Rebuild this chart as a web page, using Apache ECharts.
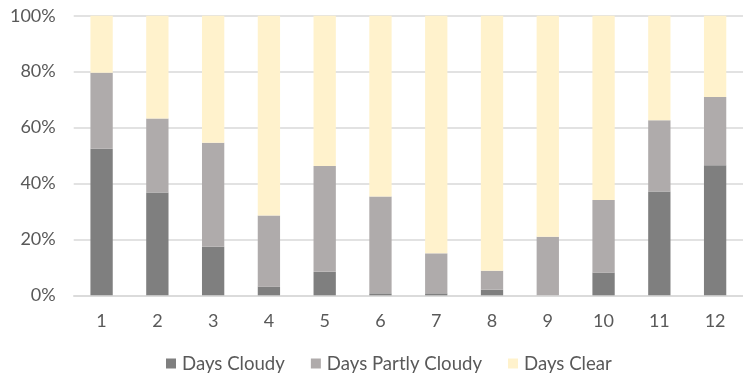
<!DOCTYPE html>
<html>
<head>
<meta charset="utf-8">
<script src="https://cdn.jsdelivr.net/npm/echarts@6/dist/echarts.min.js"></script>
<style>
  html, body { margin: 0; padding: 0; background: #fff; }
  #chart { width: 743px; height: 375px; }
</style>
</head>
<body>
<div id="chart"></div>
<script>
// Monthly sky conditions, share of days (%)
const months = ['1', '2', '3', '4', '5', '6', '7', '8', '9', '10', '11', '12'];
const daysCloudy = [52.4, 36.8, 17.4, 3.1, 8.4, 0.7, 0.7, 2.0, 0.0, 8.1, 37.1, 46.5];
const daysPartlyCloudy = [27.2, 26.4, 37.2, 25.4, 37.8, 34.6, 14.3, 6.8, 20.9, 26.0, 25.5, 24.4];
const daysClear = [20.4, 36.8, 45.4, 71.5, 53.8, 64.7, 85.0, 91.2, 79.1, 65.9, 37.4, 29.1];
const yTicks = [0, 20, 40, 60, 80, 100];

const chart = echarts.init(document.getElementById('chart'));
const font = 'Lato, "Open Sans", sans-serif';
const fontSize = 18;

function barSeries(name, data, color) {
  return {
    name: name,
    type: 'bar',
    stack: 'total',
    barWidth: '40%',
    data: data,
    itemStyle: { color: color },
    emphasis: { disabled: true }
  };
}

chart.setOption({
  animation: false,
  grid: { left: 73.7, top: 15.7, width: 679, height: 279.6, containLabel: false },
  legend: {
    top: 354,
    left: 166,
    padding: 0,
    itemWidth: 10,
    itemHeight: 10,
    itemGap: 26,
    icon: 'rect',
    textStyle: { fontFamily: font, fontSize: 18.6, color: '#595959', padding: [0, 0, 0, 1] },
    data: ['Days Cloudy', 'Days Partly Cloudy', 'Days Clear']
  },
  xAxis: {
    type: 'category',
    data: months,
    axisLine: { show: true, lineStyle: { color: '#d9d9d9', width: 1.5 } },
    axisTick: { show: false },
    axisLabel: { fontFamily: font, fontSize: fontSize, color: '#595959', margin: 17 }
  },
  yAxis: {
    type: 'value',
    min: yTicks[0],
    max: yTicks[yTicks.length - 1],
    interval: 20,
    axisLine: { show: false },
    axisTick: { show: false },
    splitLine: { lineStyle: { color: '#d9d9d9', width: 1.5 } },
    axisLabel: { fontFamily: font, fontSize: fontSize, color: '#595959', margin: 18, formatter: '{value}%' }
  },
  series: [
    barSeries('Days Cloudy', daysCloudy, '#7f7f7f'),
    barSeries('Days Partly Cloudy', daysPartlyCloudy, '#afabab'),
    barSeries('Days Clear', daysClear, '#fff2cc')
  ]
});
</script>
</body>
</html>
